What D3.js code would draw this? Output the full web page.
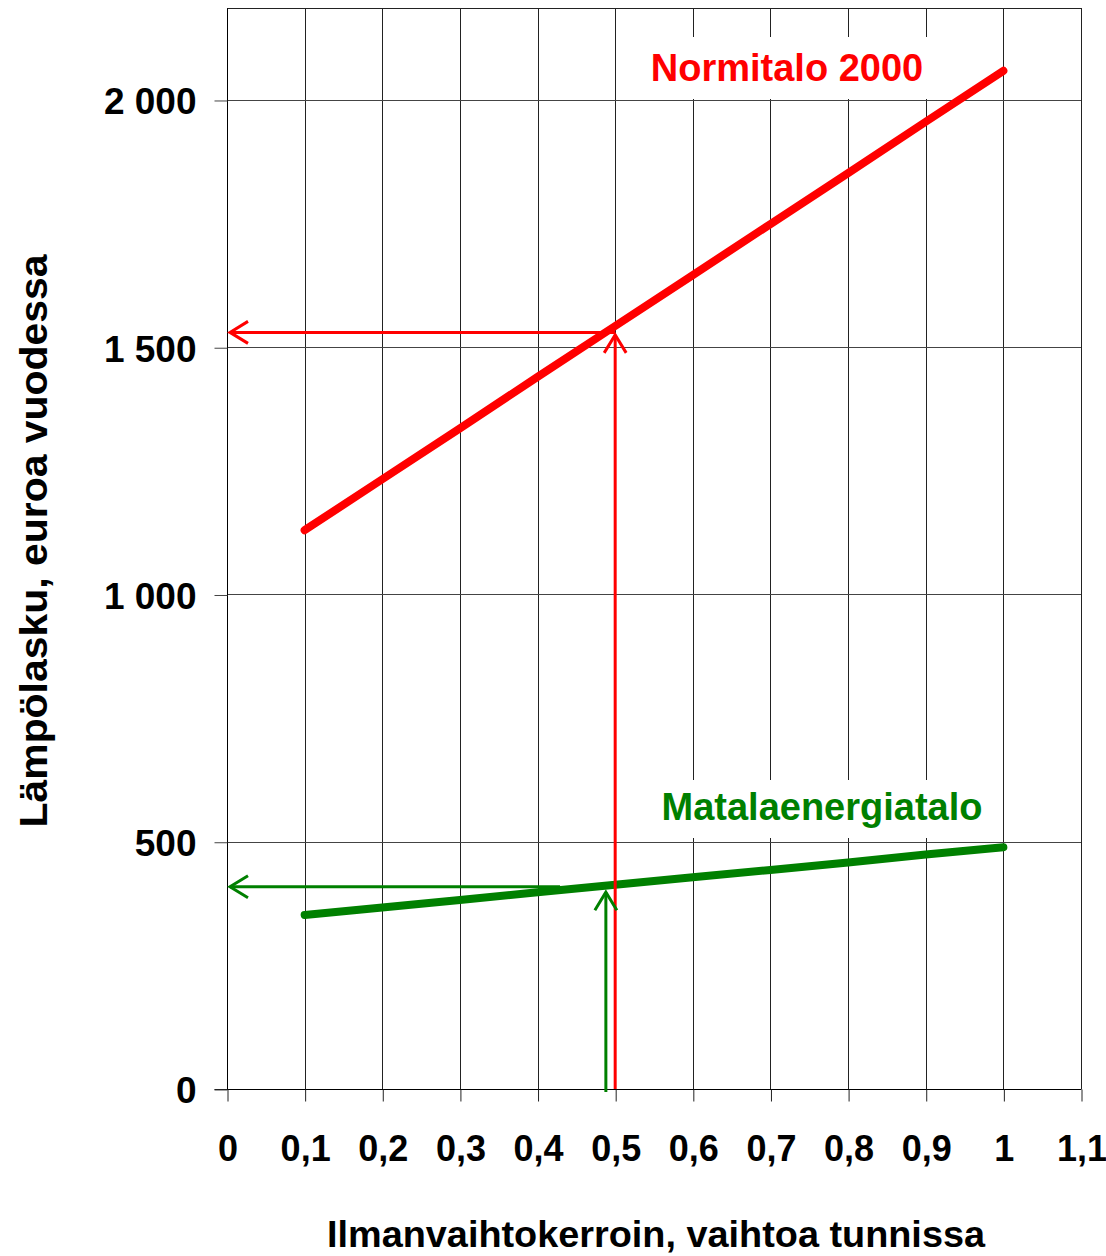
<!DOCTYPE html>
<html><head><meta charset="utf-8">
<script src="https://cdn.jsdelivr.net/npm/d3@7"></script>
<style>
body{margin:0;background:#fff;}
svg{display:block;font-family:"Liberation Sans",Arial,sans-serif;font-weight:bold;}
</style></head><body>
<svg id="c" width="1106" height="1256"></svg>
<script>
// data
const xValues = [0.1,0.2,0.3,0.4,0.5,0.6,0.7,0.8,0.9,1.0];
const normitalo = [1130,1233,1336,1440,1543,1646,1749,1852,1956,2059];
const matala = [352,367,382,398,413,428,443,458,474,489];
const xTicks = [0,0.1,0.2,0.3,0.4,0.5,0.6,0.7,0.8,0.9,1,1.1];
const xTickLabels = ["0","0,1","0,2","0,3","0,4","0,5","0,6","0,7","0,8","0,9","1","1,1"];
const yTicks = [0,500,1000,1500,2000];
const yTickLabels = ["0","500","1 000","1 500","2 000"];
// reading guides: [x on curve, value read, x where horizontal arrow starts, x of vertical arrow]
const redGuide = [0.5, 1530, 0.5, 0.5];
const greenGuide = [0.488, 409, 0.429, 0.488];

const svg = d3.select("#c");
const x = d3.scaleLinear().domain([0,1.1]).range([227,1081]);
const y = d3.scaleLinear().domain([0,2186]).range([1089,8]);

// grid
const g = svg.append("g");
g.selectAll("line.v").data(xTicks.slice(1)).join("line")
  .attr("x1",d=>Math.round(x(d))+0.5).attr("x2",d=>Math.round(x(d))+0.5)
  .attr("y1",y(2186)).attr("y2",y(0)).attr("stroke","#222").attr("stroke-width",1);
g.selectAll("line.h").data(yTicks.slice(1)).join("line")
  .attr("x1",x(0)).attr("x2",x(1.1))
  .attr("y1",d=>Math.round(y(d))+0.5).attr("y2",d=>Math.round(y(d))+0.5)
  .attr("stroke","#444").attr("stroke-width",1);
// top border
g.append("line").attr("x1",x(0)).attr("x2",x(1.1)).attr("y1",y(2186)+0.5).attr("y2",y(2186)+0.5).attr("stroke","#222");

// axes
const xAxis = d3.axisBottom(x).tickValues(xTicks).tickFormat((d,i)=>xTickLabels[i]).tickSize(12).tickPadding(34);
const ax = svg.append("g").attr("transform",`translate(0.5,${Math.round(y(0))+0.5})`).call(xAxis);
ax.select(".domain").attr("stroke","#000").attr("d",`M${x(0)-13},0H${x(1.1)}`);
ax.selectAll(".tick line").attr("stroke","#222");
ax.selectAll(".tick text").attr("font-size",36).attr("fill","#000").attr("font-family","Liberation Sans, Arial, sans-serif").attr("font-weight","bold");

const yAxis = d3.axisLeft(y).tickValues(yTicks).tickFormat((d,i)=>yTickLabels[i]).tickSize(13).tickPadding(18);
const ay = svg.append("g").attr("transform",`translate(${Math.round(x(0))+0.5},0.5)`).call(yAxis);
ay.select(".domain").attr("stroke","#000").attr("d",`M0,${y(2186)}V${y(0)}`);
ay.selectAll(".tick line").attr("stroke","#444");
ay.selectAll(".tick text").attr("font-size",37).attr("fill","#000").attr("font-family","Liberation Sans, Arial, sans-serif").attr("font-weight","bold").attr("dy","0.36em");

// label boxes
function label(txt, cx, base, color, fs, bx0, bx1, by0, by1){
  svg.append("rect").attr("x",bx0).attr("y",by0).attr("width",bx1-bx0).attr("height",by1-by0).attr("fill","#fff");
  svg.append("text").attr("x",cx).attr("y",base).attr("text-anchor","middle").attr("fill",color)
    .attr("font-size",fs).text(txt);
}
label("Normitalo 2000", 787, 81, "#ff0000", 38, 642, 938, 37, 99);
label("Matalaenergiatalo", 822, 820, "#008000", 38, 652, 993, 780, 838);

// guides & arrows
function chevron(px, py, dir, color, w){
  const L = 18, S = 11;
  let p;
  if(dir==="left") p = `M${px+L},${py-S}L${px},${py}L${px+L},${py+S}`;
  else p = `M${px-S},${py+L}L${px},${py}L${px+S},${py+L}`;
  svg.append("path").attr("d",p).attr("fill","none").attr("stroke",color).attr("stroke-width",w);
}
function guide(gd, color, w){
  const [xc, v, xh, xv] = gd;
  const yy = y(v);
  svg.append("line").attr("x1",x(xh)).attr("x2",x(0)+3).attr("y1",yy).attr("y2",yy).attr("stroke",color).attr("stroke-width",w);
  chevron(x(0)+3, yy, "left", color, w);
}
guide(redGuide, "#ff0000", 3);
guide(greenGuide, "#008000", 3);

// series lines
const line = d3.line().x((d,i)=>x(xValues[i])).y(d=>y(d));
svg.append("path").datum(normitalo).attr("d",line).attr("fill","none").attr("stroke","#ff0000").attr("stroke-width",8).attr("stroke-linecap","round");
svg.append("path").datum(matala).attr("d",line).attr("fill","none").attr("stroke","#008000").attr("stroke-width",8).attr("stroke-linecap","round");

// vertical arrows
function vguide(gd, color, w, topV, extra){
  const xv = x(gd[3]);
  svg.append("line").attr("x1",xv).attr("x2",xv).attr("y1",y(0)+extra).attr("y2",y(topV)).attr("stroke",color).attr("stroke-width",w);
  chevron(xv, y(topV), "up", color, w);
}
vguide(redGuide, "#ff0000", 3, 1525, 0);
vguide(greenGuide, "#008000", 3, 398, 3);

// axis titles
svg.append("text").attr("x",656).attr("y",1247).attr("text-anchor","middle").attr("font-size",37).attr("fill","#000")
  .attr("textLength",658).attr("lengthAdjust","spacingAndGlyphs")
  .text("Ilmanvaihtokerroin, vaihtoa tunnissa");
svg.append("text").attr("transform","translate(47,541) rotate(-90)").attr("text-anchor","middle").attr("font-size",38).attr("fill","#000")
  .attr("textLength",573).attr("lengthAdjust","spacingAndGlyphs")
  .text("Lämpölasku, euroa vuodessa");
</script>
</body></html>
